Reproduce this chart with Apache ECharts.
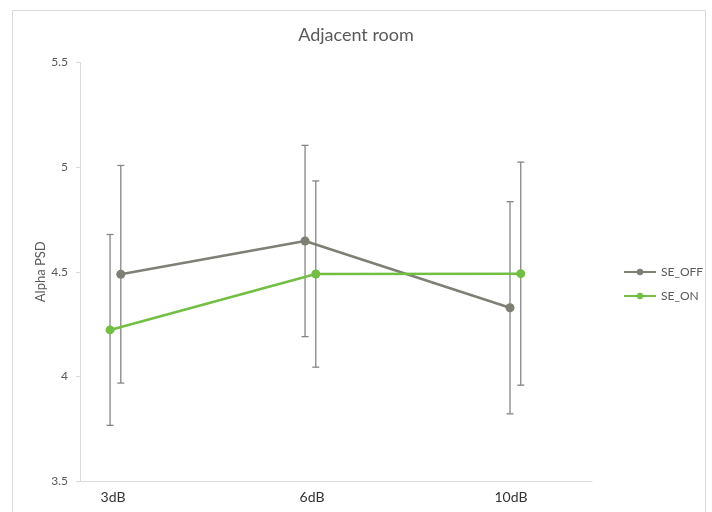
<!DOCTYPE html>
<html>
<head>
<meta charset="utf-8">
<script src="https://cdn.jsdelivr.net/npm/echarts@6/dist/echarts.min.js"></script>
<style>
html,body{margin:0;padding:0;background:#fff;}
#c{width:712px;height:512px;}
</style>
</head>
<body>
<div id="c"></div>
<script>
const categories = ['3dB', '6dB', '10dB'];
const seOff = [4.488, 4.647, 4.328];
const seOn = [4.222, 4.489, 4.491];
const seOffErr = [0.52, 0.457, 0.507];
const seOnErr = [0.456, 0.445, 0.533];
// horizontal position of each series' marker inside its category (category units)
const seOffPos = [0.039, 0.965, 1.995];
const seOnPos = [-0.015, 1.019, 2.049];
const yTicks = [3.5, 4, 4.5, 5, 5.5];

const offColor = '#7f7f76';
const onColor = '#73bf44';
const font = 'Lato, "Open Sans", sans-serif';

function pts(pos, vals) { return vals.map((v, i) => [pos[i], v]); }
function errs(pos, vals, e) { return vals.map((v, i) => [pos[i], v - e[i], v + e[i]]); }

function errRender(params, api) {
  const x = api.value(0);
  const lo = api.coord([x, api.value(1)]);
  const hi = api.coord([x, api.value(2)]);
  const cap = 3.5;
  const st = { stroke: '#858585', lineWidth: 1.3 };
  return {
    type: 'group',
    children: [
      { type: 'line', shape: { x1: lo[0], y1: lo[1], x2: hi[0], y2: hi[1] }, style: st },
      { type: 'line', shape: { x1: lo[0] - cap, y1: lo[1], x2: lo[0] + cap, y2: lo[1] }, style: st },
      { type: 'line', shape: { x1: hi[0] - cap, y1: hi[1], x2: hi[0] + cap, y2: hi[1] }, style: st }
    ]
  };
}

const chart = echarts.init(document.getElementById('c'));
chart.setOption({
  animation: false,
  backgroundColor: '#fff',
  textStyle: { fontFamily: font },
  title: {
    text: 'Adjacent room',
    left: 'center',
    top: 21,
    textStyle: { fontFamily: font, fontSize: 18, fontWeight: 'normal', color: '#595959' }
  },
  graphic: [{
    type: 'rect',
    shape: { x: 12.5, y: 10.5, width: 693, height: 520 },
    style: { fill: 'none', stroke: '#d9d9d9', lineWidth: 1 },
    silent: true
  }],
  legend: {
    orient: 'vertical',
    left: 618,
    top: 261,
    itemWidth: 32,
    itemHeight: 8,
    itemGap: 12,
    data: ['SE_OFF', 'SE_ON'],
    textStyle: { fontFamily: font, fontSize: 12, color: '#595959' }
  },
  grid: { left: 80, top: 62.5, width: 512, bottom: 31 },
  xAxis: {
    type: 'value',
    min: -0.166,
    max: 2.407,
    splitLine: { show: false },
    axisTick: { show: false },
    axisLine: { show: true, onZero: false, lineStyle: { color: '#d9d9d9' } },
    axisLabel: {
      customValues: [0, 1, 2],
      formatter: v => categories[Math.round(v)],
      fontSize: 14,
      color: '#333333',
      margin: 9,
      fontFamily: font
    }
  },
  yAxis: {
    type: 'value',
    min: yTicks[0],
    max: yTicks[yTicks.length - 1],
    interval: 0.5,
    name: 'Alpha PSD',
    nameLocation: 'middle',
    nameGap: 33,
    nameMoveOverlap: false,
    nameTextStyle: { fontFamily: font, fontSize: 13, color: '#595959' },
    splitLine: { show: false },
    axisLine: { show: true, onZero: false, lineStyle: { color: '#d9d9d9' } },
    axisTick: { show: true, length: 4, lineStyle: { color: '#d9d9d9' } },
    axisLabel: { fontSize: 12, color: '#595959', margin: 12, fontFamily: font }
  },
  series: [
    {
      type: 'custom', name: 'errOff', renderItem: errRender,
      data: errs(seOffPos, seOff, seOffErr), encode: { x: 0, y: [1, 2] }, z: 1, silent: true
    },
    {
      type: 'custom', name: 'errOn', renderItem: errRender,
      data: errs(seOnPos, seOn, seOnErr), encode: { x: 0, y: [1, 2] }, z: 1, silent: true
    },
    {
      name: 'SE_OFF', type: 'line', data: pts(seOffPos, seOff), z: 3,
      symbol: 'circle', symbolSize: 9,
      lineStyle: { color: offColor, width: 2.5 }, itemStyle: { color: offColor }
    },
    {
      name: 'SE_ON', type: 'line', data: pts(seOnPos, seOn), z: 3,
      symbol: 'circle', symbolSize: 9,
      lineStyle: { color: onColor, width: 2.5 }, itemStyle: { color: onColor }
    }
  ]
});
</script>
</body>
</html>
